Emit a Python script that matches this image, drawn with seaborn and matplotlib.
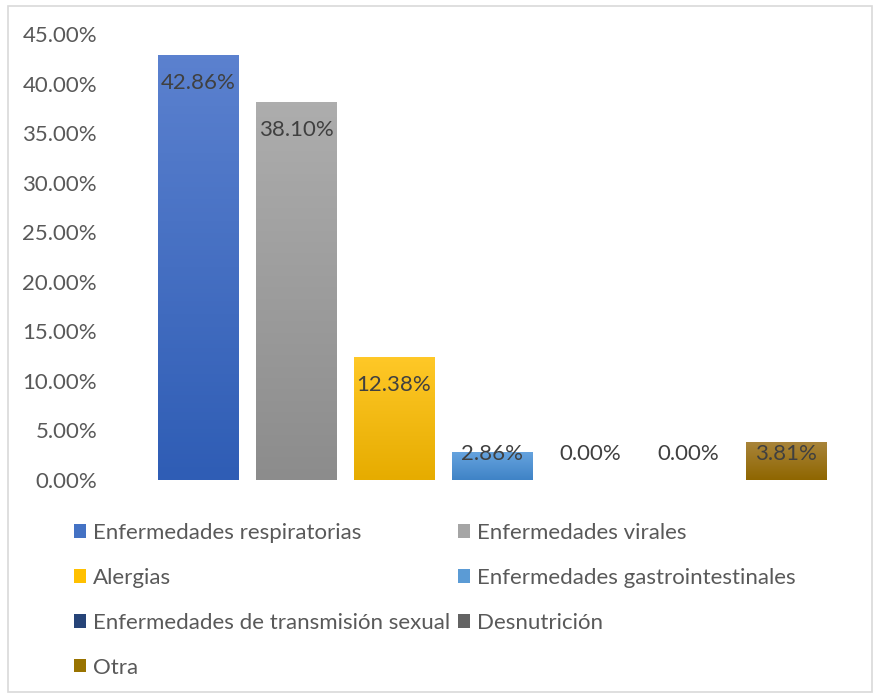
import numpy as np
import pandas as pd
import seaborn as sns
import matplotlib.pyplot as plt
from matplotlib.patches import Patch, Rectangle
from matplotlib.colors import to_rgb

# data
categorias = ['Enfermedades respiratorias', 'Enfermedades virales', 'Alergias',
              'Enfermedades gastrointestinales', 'Enfermedades de transmisión sexual',
              'Desnutrición', 'Otra']
porcentajes = [0.4286, 0.3810, 0.1238, 0.0286, 0.0, 0.0, 0.0381]
etiquetas = ['42.86%', '38.10%', '12.38%', '2.86%', '0.00%', '0.00%', '3.81%']
y_ticks = [0, 0.05, 0.10, 0.15, 0.20, 0.25, 0.30, 0.35, 0.40, 0.45]

# colours (top of gradient, bottom of gradient)
color_top = ['#5B81CF', '#ADADAD', '#FFC827', '#67A4DF', '#2B4C85', '#6E6E6E', '#A8843A']
color_bot = ['#2F5DB5', '#8C8C8C', '#E6AC00', '#3F83C6', '#203864', '#585858', '#8F6600']
color_mid = ['#4472C4', '#A5A5A5', '#FFC000', '#5B9BD5', '#264478', '#636363', '#997300']

df = pd.DataFrame({'categoria': categorias, 'valor': porcentajes})

sns.set_style('white')
plt.rcParams['font.family'] = ['Lato', 'DejaVu Sans']
text_color = '#595959'
fs = 16

fig = plt.figure(figsize=(8.8, 6.98), dpi=100)
ax = fig.add_axes([149 / 880, 1 - 480 / 698, 686 / 880, 446 / 698])

sns.barplot(data=df, x='categoria', y='valor', hue='categoria', palette=color_mid,
            width=0.82, legend=False, ax=ax)

# gradient fill for every bar
for patch, ct, cb in zip(ax.patches, color_top, color_bot):
    x0, y0 = patch.get_x(), patch.get_y()
    w, h = patch.get_width(), patch.get_height()
    if h <= 0:
        continue
    grad = np.linspace(0, 1, 100)[:, None]
    top, bot = np.array(to_rgb(ct)), np.array(to_rgb(cb))
    img = top[None, None, :] * (1 - grad[:, :, None]) + bot[None, None, :] * grad[:, :, None]
    im = ax.imshow(img, extent=[x0, x0 + w, y0, y0 + h], aspect='auto', origin='upper', zorder=3)
    im.set_clip_path(patch)

ax.set_xlim(-0.5, 6.5)
ax.set_ylim(0, 0.45)
ax.set_yticks(y_ticks)
ax.set_yticklabels(['%.2f%%' % (t * 100) for t in y_ticks])
ax.set_xticks([])
ax.set_xlabel('')
ax.set_ylabel('')
ax.tick_params(axis='y', labelsize=fs, labelcolor=text_color, length=0, pad=37.4)
for s in ax.spines.values():
    s.set_visible(False)

# data labels, inside end of the bar
for i, (v, t) in enumerate(zip(porcentajes, etiquetas)):
    ypos = max(v - 0.0283, 0.0262)
    ax.text(i, ypos, t, ha='center', va='center', fontsize=fs, color='#404040', zorder=5)

# legend
handles = [Patch(facecolor=c, edgecolor='none') for c in color_mid]
order = [0, 2, 4, 6, 1, 3, 5]
leg = fig.legend([handles[i] for i in order], [categorias[i] for i in order],
                 ncol=2, loc='upper left', bbox_to_anchor=(65 / 880, 1 - 514 / 698),
                 frameon=False, fontsize=fs, handlelength=0.55, handleheight=0.55,
                 handletextpad=0.3, labelspacing=1.12, columnspacing=0.35,
                 borderaxespad=0)
for t in leg.get_texts():
    t.set_color(text_color)

# chart border
fig.patches.append(Rectangle((8 / 880, 6 / 698), 864 / 880, 686 / 698, transform=fig.transFigure,
                             fill=False, edgecolor='#D9D9D9', linewidth=1.2))

plt.savefig('out.png', dpi=100)
plt.close()
